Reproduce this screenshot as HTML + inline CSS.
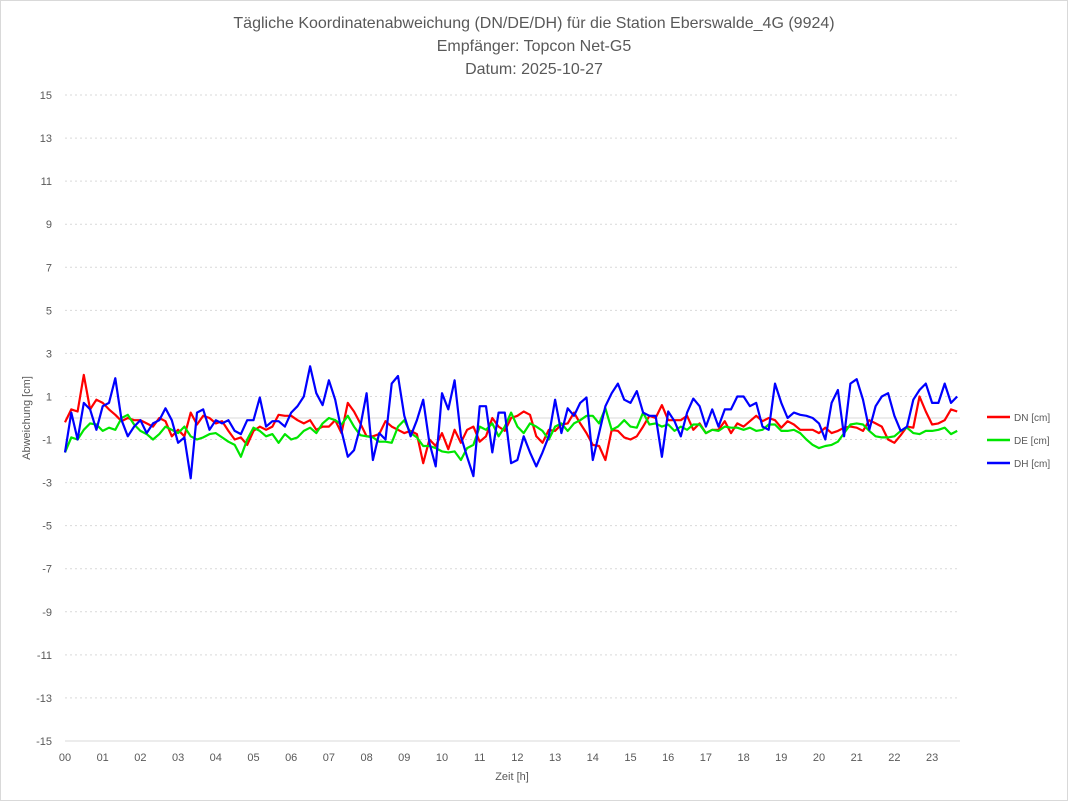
<!DOCTYPE html>
<html><head><meta charset="utf-8"><style>
body{margin:0;background:#fff;font-family:"Liberation Sans",sans-serif}
svg{display:block}
</style></head><body>
<svg id="chart" width="1068" height="801">
<rect x="0.5" y="0.5" width="1067" height="800" fill="#fff" stroke="#d9d9d9"/>
<text x="534" y="28" text-anchor="middle" font-size="16" fill="#595959">Tägliche Koordinatenabweichung (DN/DE/DH) für die Station Eberswalde_4G (9924)</text>
<text x="534" y="51" text-anchor="middle" font-size="16" fill="#595959">Empfänger: Topcon Net-G5</text>
<text x="534" y="74" text-anchor="middle" font-size="16" fill="#595959">Datum: 2025-10-27</text>
<g id="grid"></g><g id="axes"></g><g id="series"></g>
<text transform="translate(30,418) rotate(-90)" text-anchor="middle" font-size="11" fill="#595959">Abweichung [cm]</text>
<text x="512" y="780" text-anchor="middle" font-size="11" fill="#595959">Zeit [h]</text>
<g>
<line x1="987" y1="417" x2="1010" y2="417" stroke="#ff0000" stroke-width="2.5"/><text x="1014" y="421" font-size="10" fill="#595959">DN [cm]</text>
<line x1="987" y1="440" x2="1010" y2="440" stroke="#00e600" stroke-width="2.5"/><text x="1014" y="444" font-size="10" fill="#595959">DE [cm]</text>
<line x1="987" y1="463" x2="1010" y2="463" stroke="#0000ff" stroke-width="2.5"/><text x="1014" y="467" font-size="10" fill="#595959">DH [cm]</text>
</g>
</svg>
<script>
const yTicks=[15,13,11,9,7,5,3,1,-1,-3,-5,-7,-9,-11,-13,-15];
const xTickLabels=["00","01","02","03","04","05","06","07","08","09","10","11","12","13","14","15","16","17","18","19","20","21","22","23"];
const stepHours=1/6;
const dnValues=[-0.2,0.4,0.3,2.0,0.4,0.85,0.7,0.4,0.15,-0.15,0,-0.1,-0.1,-0.25,-0.4,0,-0.15,-0.85,-0.55,-0.85,0.25,-0.3,0.1,0,-0.25,-0.15,-0.6,-1.0,-0.9,-1.25,-0.6,-0.4,-0.55,-0.4,0.15,0.1,
0.1,-0.1,-0.25,-0.1,-0.55,-0.4,-0.4,-0.1,-0.7,0.7,0.3,-0.25,-0.85,-0.85,-0.75,-0.15,-0.4,-0.55,-0.7,-0.6,-0.75,-2.1,-1.0,-1.3,-0.7,-1.45,-0.55,-1.15,-0.55,-0.4,-1.1,-0.85,0,-0.4,-0.6,0,
0.1,0.3,0.15,-0.85,-1.15,-0.55,-0.6,-0.3,-0.25,0.25,-0.25,-0.7,-1.25,-1.3,-1.95,-0.55,-0.6,-0.9,-1.0,-0.85,-0.4,0.1,0,0.6,-0.1,-0.1,-0.1,0.1,-0.55,-0.25,-0.7,-0.55,-0.55,-0.15,-0.7,-0.25,
-0.4,-0.15,0.1,-0.15,0,-0.1,-0.45,-0.15,-0.3,-0.55,-0.55,-0.55,-0.7,-0.45,-0.7,-0.6,-0.45,-0.4,-0.45,-0.6,-0.1,-0.25,-0.4,-1.0,-1.15,-0.8,-0.4,-0.45,1.0,0.3,-0.3,-0.25,-0.1,0.4,0.3];
const deValues=[-1.6,-0.9,-1.0,-0.55,-0.25,-0.3,-0.6,-0.45,-0.55,0,0.15,-0.3,-0.6,-0.75,-1.0,-0.75,-0.4,-0.55,-0.7,-0.4,-0.85,-1.0,-0.9,-0.75,-0.7,-0.9,-1.1,-1.25,-1.8,-1.0,-0.45,-0.6,-0.85,-0.75,-1.15,-0.75,
-1.0,-0.9,-0.6,-0.45,-0.7,-0.25,0,-0.1,-0.3,0.1,-0.4,-0.8,-0.85,-0.9,-1.1,-1.1,-1.15,-0.4,-0.1,-0.7,-0.9,-1.3,-1.3,-1.4,-1.55,-1.6,-1.55,-1.95,-1.4,-1.25,-0.4,-0.55,-0.25,-0.85,-0.4,0.25,
-0.4,-0.7,-0.25,-0.4,-0.6,-1.0,-0.4,-0.25,-0.6,-0.25,-0.1,0.1,0.1,-0.25,0.45,-0.55,-0.4,-0.1,-0.4,-0.45,0.25,-0.3,-0.25,-0.4,-0.3,-0.6,-0.4,-0.55,-0.3,-0.3,-0.7,-0.55,-0.6,-0.4,-0.45,-0.45,
-0.55,-0.45,-0.6,-0.55,-0.3,-0.3,-0.6,-0.6,-0.55,-0.7,-1.0,-1.25,-1.4,-1.3,-1.25,-1.1,-0.7,-0.3,-0.25,-0.3,-0.6,-0.85,-0.9,-0.9,-0.85,-0.6,-0.45,-0.7,-0.75,-0.6,-0.6,-0.55,-0.45,-0.75,-0.6];
const dhValues=[-1.6,0.25,-1.0,0.7,0.4,-0.55,0.55,0.7,1.85,-0.1,-0.85,-0.4,-0.1,-0.7,-0.25,-0.1,0.45,-0.1,-1.15,-0.9,-2.8,0.25,0.4,-0.55,-0.1,-0.25,-0.1,-0.6,-0.75,-0.1,-0.1,0.95,-0.4,-0.15,-0.15,-0.4,
0.25,0.55,1.0,2.4,1.15,0.6,1.75,0.85,-0.6,-1.8,-1.5,-0.4,1.15,-1.95,-0.7,-1.0,1.6,1.95,0.1,-0.85,-0.1,0.85,-1.15,-2.25,1.15,0.4,1.75,-0.85,-1.8,-2.7,0.55,0.55,-1.6,0.25,0.25,-2.1,
-1.95,-0.85,-1.6,-2.25,-1.6,-0.85,0.85,-0.7,0.45,0.1,0.7,0.95,-1.95,-0.7,0.55,1.15,1.6,0.85,0.7,1.25,0.25,0.1,0.1,-1.8,0.3,-0.15,-0.85,0.25,0.9,0.55,-0.4,0.4,-0.4,0.4,0.4,1.0,
1.0,0.55,0.7,-0.4,-0.55,1.6,0.7,0,0.25,0.15,0.1,0,-0.25,-1.0,0.7,1.3,-0.85,1.6,1.8,0.85,-0.55,0.55,1.0,1.15,0.1,-0.6,-0.4,0.85,1.3,1.6,0.7,0.7,1.6,0.7,1.0];

const NS="http://www.w3.org/2000/svg";
const X0=65,PXH=37.7,Y0=418,PXU=21.53;
function xScale(h){return X0+h*PXH;}
function yScale(v){return Y0-v*PXU;}
function mk(tag,attrs,parent){const e=document.createElementNS(NS,tag);for(const k in attrs)e.setAttribute(k,attrs[k]);parent.appendChild(e);return e;}
const grid=document.getElementById('grid'),axes=document.getElementById('axes'),ser=document.getElementById('series');
yTicks.forEach(v=>{
  const y=yScale(v);
  const l=mk('line',{x1:X0,x2:960,y1:y,y2:y,stroke:'#d9d9d9','stroke-width':1,'stroke-dasharray':'2,3'},grid);
  
  
  const t=mk('text',{x:52,y:y+4,'text-anchor':'end','font-size':11,fill:'#595959'},axes);
  t.textContent=v;
  
  
});
const z=mk('line',{x1:X0,x2:960,y1:yScale(0),y2:yScale(0),stroke:'#d9d9d9','stroke-width':1},grid);


const xa=mk('line',{x1:X0,x2:960,y1:yScale(-15),y2:yScale(-15),stroke:'#d9d9d9','stroke-width':1},axes);


xTickLabels.forEach((s,i)=>{
  const t=mk('text',{x:xScale(i),y:761,'text-anchor':'middle','font-size':11,fill:'#595959'},axes);
  t.textContent=s;
  
  
});
function draw(vals,color,name){
  const pts=vals.map((v,i)=>xScale(i*stepHours).toFixed(1)+','+yScale(v).toFixed(1)).join(' ');
  const p=mk('polyline',{points:pts,fill:'none',stroke:color,'stroke-width':2.2,'stroke-linejoin':'round'},ser);
  
  
}
draw(dnValues,'#ff0000','dn-line');
draw(deValues,'#00e600','de-line');
draw(dhValues,'#0000ff','dh-line');
</script>
</body></html>
